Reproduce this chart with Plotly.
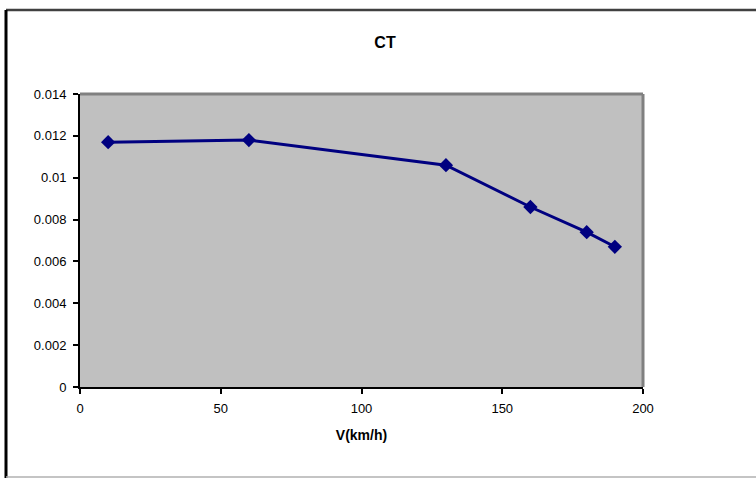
import plotly.graph_objects as go

# Data
speed_kmh = [10, 60, 130, 160, 180, 190]
ct_values = [0.0117, 0.0118, 0.0106, 0.0086, 0.0074, 0.0067]
x_tick_vals = [0, 50, 100, 150, 200]
y_tick_vals = [0, 0.002, 0.004, 0.006, 0.008, 0.01, 0.012, 0.014]
y_tick_text = ["0", "0.002", "0.004", "0.006", "0.008", "0.01", "0.012", "0.014"]

W, H = 756, 478
L, R, T, B = 80, 643, 94, 387  # plot area in pixels

def px(p):
    return (p - L) / (R - L)

def py(p):
    return (B - p) / (B - T)

fig = go.Figure()
fig.add_trace(go.Scatter(
    x=speed_kmh, y=ct_values, mode="lines+markers",
    line=dict(color="#000080", width=3),
    marker=dict(symbol="diamond", size=11, color="#000080"),
    showlegend=False, cliponaxis=False,
))

font = "Liberation Sans, Arial, sans-serif"
fig.update_layout(
    width=W, height=H,
    margin=dict(l=L, r=W - R, t=T, b=H - B, pad=0),
    paper_bgcolor="white", plot_bgcolor="#C0C0C0",
    font=dict(family=font, size=13, color="black"),
    title=dict(text="<b>CT</b>", x=px(385), xref="paper", xanchor="center",
               y=1 - 42 / H, yanchor="middle", font=dict(size=16)),
    xaxis=dict(range=[0, 200], tickvals=x_tick_vals, showgrid=False, zeroline=False,
               showline=True, linecolor="black", linewidth=2,
               ticks="outside", ticklen=5, tickwidth=1.5, tickcolor="black",
               ticklabelstandoff=3,
               title=dict(text="<b>V(km/h)</b>", font=dict(size=14), standoff=16)),
    yaxis=dict(range=[0, 0.014], tickvals=y_tick_vals, ticktext=y_tick_text,
               showgrid=False, zeroline=False,
               showline=True, linecolor="black", linewidth=2,
               ticks="outside", ticklen=5, tickwidth=1.5, tickcolor="black",
               ticklabelstandoff=4),
    shapes=[
        # gray plot-area border top and right
        dict(type="line", xref="paper", yref="paper", x0=0, x1=1, y0=1, y1=1,
             line=dict(color="#808080", width=3)),
        dict(type="line", xref="paper", yref="paper", x0=1, x1=1, y0=0, y1=1,
             line=dict(color="#808080", width=3)),
        # outer frame
        dict(type="line", xref="paper", yref="paper", x0=px(6), x1=px(756), y0=py(10), y1=py(10),
             line=dict(color="#404040", width=2.5)),
        dict(type="line", xref="paper", yref="paper", x0=px(6), x1=px(6), y0=py(10), y1=py(478),
             line=dict(color="black", width=3)),
        dict(type="line", xref="paper", yref="paper", x0=px(6), x1=px(756), y0=py(477), y1=py(477),
             line=dict(color="#B0B0B0", width=1.5)),
    ],
)

fig.write_html("out.html")
